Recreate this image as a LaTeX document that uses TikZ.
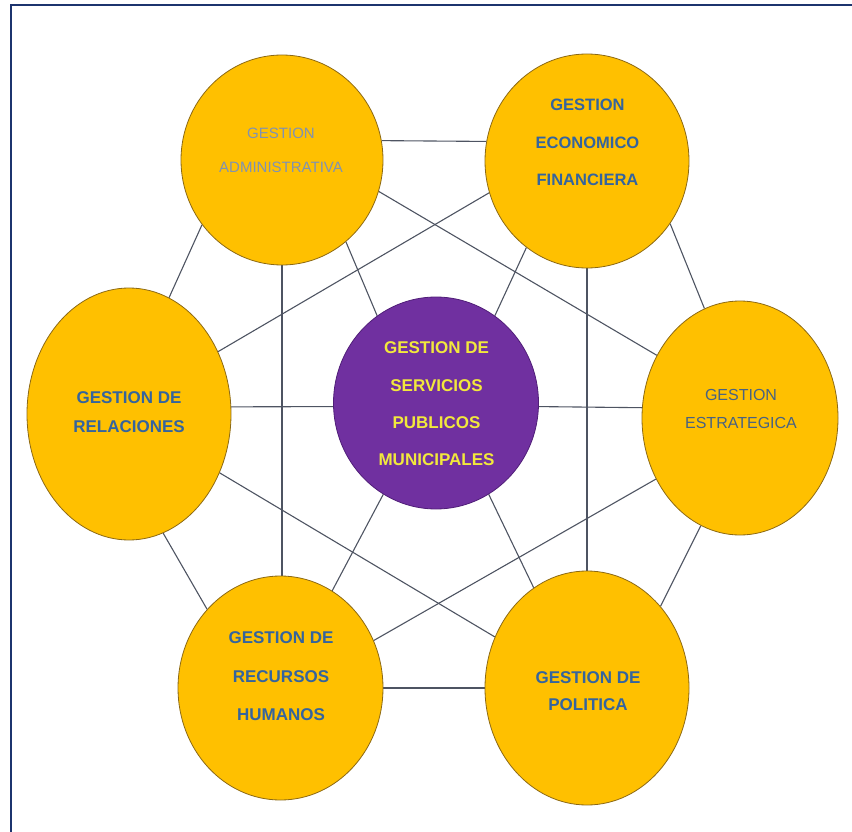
\documentclass[tikz,border=0pt]{standalone}
\usepackage{fontspec}
\setmainfont{Liberation Sans}
\usetikzlibrary{shapes.geometric,backgrounds}
\definecolor{gold}{RGB}{255,192,0}
\definecolor{ovalline}{RGB}{140,105,20}
\definecolor{purp}{RGB}{112,48,160}
\definecolor{purpline}{RGB}{80,30,120}
\definecolor{connc}{RGB}{78,84,98}
\definecolor{navy}{RGB}{28,52,110}
\definecolor{bluetxt}{RGB}{52,100,158}
\definecolor{graytxt}{RGB}{128,146,178}
\definecolor{steeltxt}{RGB}{72,98,130}
\definecolor{yeltxt}{RGB}{242,232,60}
\tikzset{
  oval/.style={ellipse, draw=ovalline, line width=0.8pt, fill=gold, inner sep=0pt},
  conn/.style={draw=connc, line width=1.1pt},
  lbl/.style={align=center, inner sep=0pt, text=bluetxt, font=\bfseries\fontsize{17}{37.5}\selectfont},
}
\begin{document}
\begin{tikzpicture}[x=1pt,y=-1pt]
\useasboundingbox (0,0) rectangle (852,832);
\draw[navy, line width=2.6pt] (852,5) -- (11,5) -- (11,832);

% ovals
\node[oval, minimum width=202pt, minimum height=210pt] (adm) at (282,160) {};
\node[oval, minimum width=204pt, minimum height=214pt] (eco) at (587,161) {};
\node[oval, minimum width=204pt, minimum height=252pt] (rel) at (129,414) {};
\node[oval, minimum width=196pt, minimum height=234pt] (est) at (740,418) {};
\node[ellipse, draw=purpline, line width=0.8pt, fill=purp, inner sep=0pt, minimum width=205pt, minimum height=212pt] (cen) at (436,403) {};
\node[oval, minimum width=205pt, minimum height=224pt] (rrh) at (280.5,688) {};
\node[oval, minimum width=204pt, minimum height=234pt] (pol) at (587,688) {};

% labels
\node[lbl, text=graytxt, font=\fontsize{15}{34}\selectfont] (admT) at (281,150) {GESTION\\ADMINISTRATIVA};
\node[lbl, font=\bfseries\fontsize{16.5}{37.5}\selectfont] (ecoT) at (587.5,142.5) {GESTION\\ECONOMICO\\FINANCIERA};
\node[lbl, font=\bfseries\fontsize{17}{29}\selectfont] (relT) at (129,412.5) {GESTION DE\\RELACIONES};
\node[lbl, text=yeltxt, font=\bfseries\fontsize{17}{37.3}\selectfont] (cenT) at (436.5,404) {GESTION DE\\SERVICIOS\\PUBLICOS\\MUNICIPALES};
\node[lbl, text=steeltxt, font=\fontsize{16}{28}\selectfont] (estT) at (741,409) {GESTION\\ESTRATEGICA};
\node[lbl, font=\bfseries\fontsize{17}{38.5}\selectfont] (rrhT) at (281,676.5) {GESTION DE\\RECURSOS\\HUMANOS};
\node[lbl, font=\bfseries\fontsize{17}{27}\selectfont] (polT) at (588,691.5) {GESTION DE\\POLITICA};

% connectors
\begin{pgfonlayer}{background}
\draw[conn] (adm.11) -- (eco.169);
\draw[conn] (adm.-141.8) -- (rel.71);
\draw[conn] (adm.-52.5) -- (cen.124);
\draw[conn] (adm.-18.6) -- (est.143.5);
\draw[conn] (adm.south) -- (adm.south |- rrh.north);
\draw[conn] (eco.-162.3) -- (rel.35.5);
\draw[conn] (eco.-125.8) -- (cen.56);
\draw[conn] (eco.-37.8) -- (est.108);
\draw[conn] (eco.south) -- (eco.south |- pol.north);
\draw[conn] (rel.4) -- (cen.182);
\draw[conn] (rel.-33.5) -- (pol.151);
\draw[conn] (rel.-74.5) -- (rrh.133);
\draw[conn] (cen.-2) -- (est.174);
\draw[conn] (cen.-120) -- (rrh.62.4);
\draw[conn] (cen.-60) -- (pol.118.9);
\draw[conn] (est.-144.8) -- (rrh.27);
\draw[conn] (est.-110) -- (pol.48);
\draw[conn] (rrh.0) -- (pol.180);
\end{pgfonlayer}
\end{tikzpicture}
\end{document}
